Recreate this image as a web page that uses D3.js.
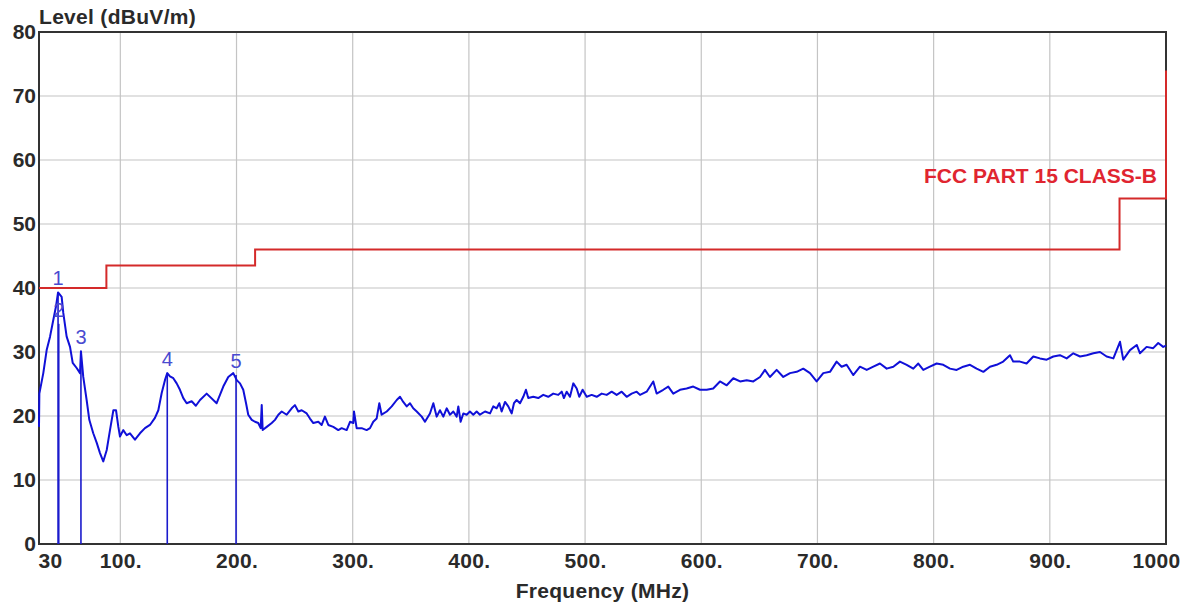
<!DOCTYPE html>
<html>
<head>
<meta charset="utf-8">
<script src="https://cdn.jsdelivr.net/npm/d3@7"></script>
<style>
  body { margin: 0; background: #fff; }
  svg text { font-family: "Liberation Sans", Arial, sans-serif; }
</style>
</head>
<body>
<div id="chart"></div>
<script>
// measured trace, [MHz, dBuV/m]
const trace = [[30,18.3],[30.3,23.5],[33.7,26.7],[36.6,30.3],[39.5,32.4],[42.3,35.0],[44.6,37.1],[46.4,39.3],[49.5,38.6],[50.9,36.1],[53.8,32.4],[56.7,30.8],[59.0,28.3],[62.4,27.5],[65.3,26.7],[66.1,30.1],[68.1,26.1],[71.0,22.5],[73.3,19.4],[76.7,17.3],[79.7,15.8],[82.5,14.2],[85.3,12.9],[88.3,14.7],[91.1,17.8],[94.0,20.9],[96.3,20.9],[98.3,18.3],[99.7,16.8],[102.5,17.8],[105.5,17.0],[108.3,17.3],[112.6,16.3],[116.9,17.3],[121.2,18.1],[125.5,18.6],[129.8,19.7],[132.7,20.9],[135.6,23.6],[138.4,25.6],[140.4,26.7],[142.7,26.2],[145.6,25.9],[148.5,25.1],[151.3,24.1],[154.2,22.8],[157.1,22.0],[161.4,22.3],[165.0,21.6],[168.6,22.5],[174.3,23.5],[182.9,22.0],[188.6,24.6],[192.9,26.1],[197.2,26.7],[200.2,25.6],
  [203.0,25.1],[205.8,24.1],[208.2,22.0],[210.1,20.2],[213.1,19.4],[215.9,19.1],[218.7,18.9],[220.8,18.1],[221.7,21.7],[222.5,17.8],[226.0,18.3],[230.3,18.9],[233.1,19.4],[236.0,20.2],[238.9,20.7],[243.2,20.2],[247.5,21.2],[250.3,21.7],[253.2,20.7],[256.1,20.9],[260.4,20.4],[263.2,19.6],[266.1,18.9],[270.4,19.1],[273.3,18.6],[276.1,19.9],[279.0,18.6],[283.3,18.3],[287.6,17.8],[290.5,18.1],[294.8,17.8],[297.7,19.1],[300.5,18.9],[301.1,20.7],[303.4,18.1],[307.7,18.1],[312.0,17.8],[314.9,18.1],[317.7,19.1],[320.6,19.6],[322.9,22.0],[324.9,20.2],[329.3,20.7],[333.6,21.5],[337.9,22.5],[340.7,23.0],[343.5,22.2],[346.5,21.5],[349.3,22.0],[352.1,21.2],[355.1,20.7],[359.4,19.9],[362.2,19.1],[366.5,20.4],[369.4,22.0],[372.3,19.9],
  [375.1,20.9],[378.0,19.9],[380.9,21.2],[383.7,20.2],[386.6,20.7],[389.5,19.9],[390.9,21.5],[392.9,19.1],[395.2,20.4],[398.1,20.2],[400.9,20.7],[403.8,20.2],[406.7,20.7],[409.5,20.2],[413.9,20.7],[418.2,20.4],[421.0,21.5],[423.9,21.2],[426.2,22.0],[428.2,20.7],[431.1,22.2],[433.9,21.5],[436.8,20.4],[438.8,22.0],[441.1,22.5],[444.0,22.0],[446.8,23.0],[449.1,24.1],[451.1,22.8],[455.4,23.0],[459.7,22.8],[464.0,23.3],[468.3,23.0],[472.6,23.5],[476.9,23.3],[479.9,23.8],[481.8,22.8],[484.2,23.8],[487.0,23.0],[489.9,25.1],[492.8,24.3],[495.0,23.0],[497.9,24.1],[501.4,23.0],[505.7,23.3],[510.0,23.0],[514.3,23.5],[518.6,23.3],[522.9,23.8],[527.2,23.3],[531.5,23.8],[535.8,23.0],[540.1,23.5],[544.4,23.8],[547.3,23.3],
  [553.0,23.8],[558.7,25.4],[561.6,23.5],[567.3,24.1],[571.6,24.6],[575.9,23.5],[581.7,24.1],[587.4,24.3],[593.1,24.6],[598.9,24.1],[604.7,24.1],[610.3,24.3],[616.1,25.4],[621.9,24.8],[627.6,25.9],[633.4,25.4],[639.1,25.6],[644.8,25.4],[650.6,26.1],[654.8,27.2],[659.1,26.1],[664.9,27.2],[670.6,26.1],[676.4,26.7],[682.1,26.9],[687.8,27.4],[693.6,26.7],[699.3,25.4],[705.0,26.7],[710.8,26.9],[716.5,28.5],[720.8,27.7],[725.1,28.0],[730.8,26.4],[736.6,27.7],[742.4,27.2],[748.1,27.7],[753.8,28.2],[759.6,27.4],[765.3,27.7],[771.0,28.5],[776.8,28.0],[782.5,27.4],[786.8,28.2],[791.1,27.2],[796.8,27.7],[802.6,28.2],[808.3,28.0],[814.1,27.4],[819.8,27.2],[825.5,27.7],[831.3,28.0],[837.0,27.4],[842.8,26.9],[848.5,27.7],[854.2,28.0],[859.9,28.5],[865.7,29.5],[868.5,28.5],[874.3,28.5],[880.0,28.2],[885.8,29.3],[891.5,29.0],[897.3,28.8],[903.0,29.3],[908.7,29.5],[914.5,29.0],[920.2,29.8],[926.0,29.3],[931.7,29.5],[937.5,29.8],[943.2,30.0],[948.9,29.3],[954.7,29.0],[960.4,31.6],[963.2,28.8],[969.0,30.3],[974.8,31.1],[977.6,29.8],[983.3,30.8],[989.0,30.6],[993.3,31.4],[997.6,30.8],[1000,31.0]];

// FCC limit steps
const limitFreqs = [30, 88, 88, 216, 216, 960, 960, 1000, 1000];
const limitLevels = [40, 40, 43.5, 43.5, 46, 46, 54, 54, 74];
const limitName = "FCC PART 15 CLASS-B";

// peak markers
const markerIds = ["1", "2", "3", "4", "5"];
const markerFreqs = [46.4, 47.0, 66.1, 140.4, 199.6];
const markerLevels = [39.3, 34.4, 30.1, 26.7, 26.4];

const xTicks = [30, 100, 200, 300, 400, 500, 600, 700, 800, 900, 1000];
const yTicks = [0, 10, 20, 30, 40, 50, 60, 70, 80];

const width = 1195, height = 606;
const plotL = 39, plotR = 1166, plotT = 32, plotB = 544;

const svg = d3.select("#chart").append("svg")
    .attr("width", width)
    .attr("height", height);

const x = d3.scaleLinear().domain([30, 1000]).range([plotL, plotR]);
const y = d3.scaleLinear().domain([0, 80]).range([plotB, plotT]);

// grid
svg.append("g").selectAll("line")
    .data(xTicks.slice(1, -1))
    .join("line")
    .attr("x1", d => x(d)).attr("x2", d => x(d))
    .attr("y1", plotT).attr("y2", plotB)
    .attr("stroke", "#c4c4c4").attr("stroke-width", 1.2);
svg.append("g").selectAll("line")
    .data(yTicks.slice(1, -1))
    .join("line")
    .attr("x1", plotL).attr("x2", plotR)
    .attr("y1", d => y(d)).attr("y2", d => y(d))
    .attr("stroke", "#c4c4c4").attr("stroke-width", 1.2);

// axes
const xAxis = svg.append("g")
    .attr("transform", `translate(0,${plotB})`)
    .call(d3.axisBottom(x).tickValues(xTicks).tickSize(0).tickPadding(9)
        .tickFormat(d => (d === 30 || d === 1000) ? String(d) : d + "."));
xAxis.select(".domain").remove();
xAxis.selectAll("text")
    .attr("font-size", 21).attr("font-weight", "bold").attr("fill", "#2a2a2a")
    .attr("letter-spacing", 0.3)
    .attr("text-anchor", d => d === 30 ? "start" : (d === 1000 ? "end" : "middle"))
    .attr("dx", d => d === 30 ? -1 : (d === 1000 ? 14 : 0));

const yAxis = svg.append("g")
    .attr("transform", `translate(${plotL},0)`)
    .call(d3.axisLeft(y).tickValues(yTicks).tickSize(0).tickPadding(3));
yAxis.select(".domain").remove();
yAxis.selectAll("text")
    .attr("font-size", 21).attr("font-weight", "bold").attr("fill", "#2a2a2a");

// frame
svg.append("rect")
    .attr("x", plotL).attr("y", plotT)
    .attr("width", plotR - plotL).attr("height", plotB - plotT)
    .attr("fill", "none").attr("stroke", "#333").attr("stroke-width", 2);

// titles
svg.append("text")
    .attr("x", plotL).attr("y", 24)
    .attr("font-size", 21).attr("font-weight", "bold").attr("fill", "#2a2a2a")
    .attr("letter-spacing", 0.3)
    .text("Level (dBuV/m)");
svg.append("text")
    .attr("x", (plotL + plotR) / 2).attr("y", 598)
    .attr("text-anchor", "middle")
    .attr("font-size", 21).attr("font-weight", "bold").attr("fill", "#2a2a2a")
    .attr("letter-spacing", 0.3)
    .text("Frequency (MHz)");

// limit line
svg.append("path")
    .attr("d", d3.line().x((d, i) => x(limitFreqs[i])).y(d => y(d))(limitLevels))
    .attr("fill", "none").attr("stroke", "#d42a2a").attr("stroke-width", 2);
svg.append("text")
    .attr("x", plotR - 9).attr("y", y(56.4))
    .attr("text-anchor", "end")
    .attr("font-size", 21).attr("font-weight", "bold").attr("fill", "#e02530")
    .text(limitName);

// markers
svg.append("g").selectAll("line")
    .data(markerFreqs)
    .join("line")
    .attr("x1", d => x(d)).attr("x2", d => x(d))
    .attr("y1", plotB).attr("y2", (d, i) => y(markerLevels[i]))
    .attr("stroke", "#1a1acc").attr("stroke-width", 1.6);

// trace
svg.append("path")
    .datum(trace)
    .attr("d", d3.line().x(d => x(d[0])).y(d => y(d[1])))
    .attr("fill", "none").attr("stroke", "#1010d8").attr("stroke-width", 2)
    .attr("stroke-linejoin", "round");

svg.append("g").selectAll("text")
    .data(markerIds)
    .join("text")
    .attr("x", (d, i) => x(markerFreqs[i]))
    .attr("y", (d, i) => y(markerLevels[i]) - 7)
    .attr("text-anchor", "middle")
    .attr("font-size", 20).attr("fill", "#4a4ad0")
    .text(d => d);
</script>
</body>
</html>
